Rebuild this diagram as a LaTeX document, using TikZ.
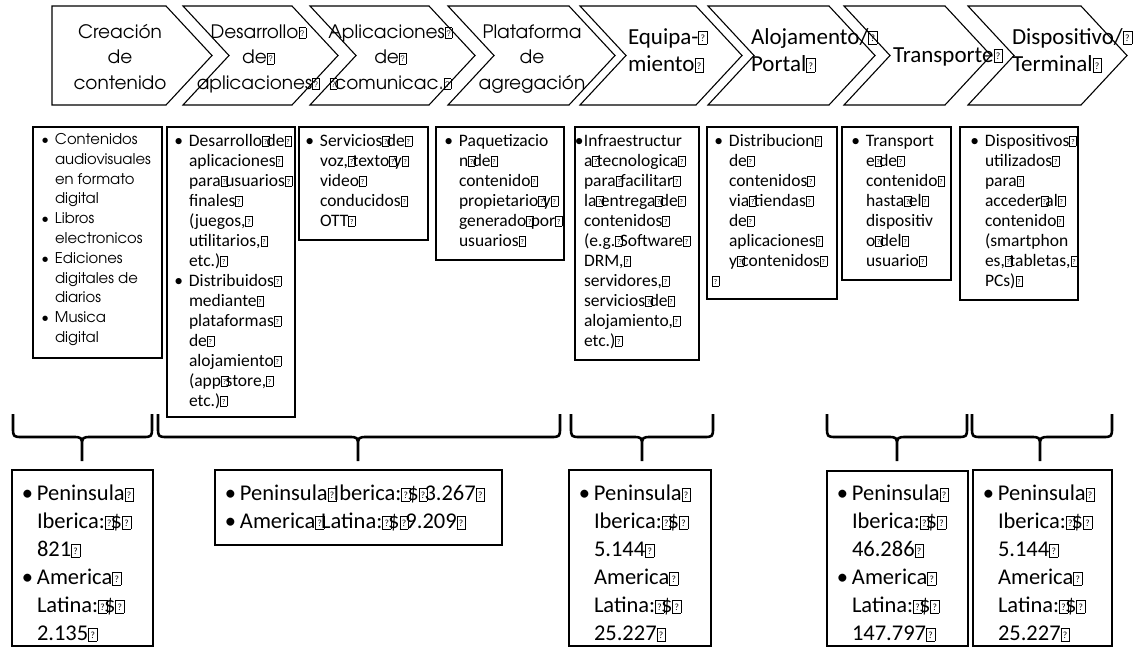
\documentclass[tikz,border=0pt]{standalone}
\usepackage{fontspec}
\setmainfont{Carlito}
\newfontfamily\gothic{texgyreadventor-regular.otf}
\newfontfamily\carl{Carlito}

% replacement-glyph box printed in place of unsupported characters;
% it advances only by about a word space, so it may overlap the next letter
\newcommand\qb{\makebox[0.26em][l]{\begingroup\setlength{\fboxsep}{0pt}\setlength{\fboxrule}{0.35pt}%
  \fbox{\makebox[0.36em]{\rule{0pt}{0.56em}\raisebox{0.1em}{\scalebox{0.42}{?}}}}\endgroup}}
% hanging bullet, #1 = gap to the text
\newcommand\bl[1]{\makebox[0pt][r]{•\hspace{#1}}}
% first-line strut so the node top sits a fixed distance above the baseline
\newcommand\fs{\rule{0pt}{0.9em}}

\newcommand\fChevG{\gothic\fontsize{18.5}{25.5}\selectfont}
\newcommand\fChevC{\carl\fontsize{23}{27.5}\selectfont}
\newcommand\fBoxG{\gothic\fontsize{14.8}{19.8}\selectfont}
\newcommand\fBoxC{\carl\fontsize{17.5}{20}\selectfont}
\newcommand\fBot{\carl\fontsize{22.5}{28}\selectfont}

\tikzset{
  chev/.style={draw=black, line width=1.1pt, line join=miter, fill=white},
  dbox/.style={draw=black, line width=1.2pt},
  brace/.style={draw=black, line width=2.6pt, line join=round},
  ltxt/.style={inner sep=0pt, outer sep=0pt, align=left, anchor=north west},
  ctxt/.style={inner sep=0pt, outer sep=0pt, align=center, anchor=north},
}

\newcommand\chevpath[2]{(#1,6) -- (#2,6) -- ({#2+46},55.5) -- (#2,105) -- (#1,105) -- ({#1+46},55.5) -- cycle}
\newcommand\brc[3]{\draw[brace] (#1,414) -- (#1,427) .. controls (#1,437) .. ({#1+10},437) -- ({#3-10},437)
   .. controls (#3,437) .. (#3,447) -- (#3,461)
   (#3,447) .. controls (#3,437) .. ({#3+10},437) -- ({#2-10},437) .. controls (#2,437) .. (#2,427) -- (#2,414);}

\begin{document}
\begin{tikzpicture}[x=1pt,y=-1pt]
\useasboundingbox[fill=white] (0,0) rectangle (1140,648);

% value chain stages
\draw[chev] (52,6) -- (166,6) -- (212,55.5) -- (166,105) -- (52,105) -- cycle;
\draw[chev] \chevpath{183}{292};
\draw[chev] \chevpath{310}{429};
\draw[chev] \chevpath{448}{569};
\draw[chev] \chevpath{580}{696};
\draw[chev] \chevpath{708}{829};
\draw[chev] \chevpath{844}{945};
\draw[chev] \chevpath{968}{1081};

\node[ctxt, font=\fChevG] (c1) at (120,21.4) {\fs Creación\\de\\contenido};
\node[ctxt, font=\fChevG] (c2) at (257,21.4) {\fs Desarrollo\qb\\de\qb\\aplicaciones\qb};
\node[ctxt, font=\fChevG] (c3) at (389,21.4) {\fs Aplicaciones\qb\\de\qb\\\qb comunicac.\qb};
\node[ctxt, font=\fChevG] (c4) at (532,21.4) {\fs Plataforma\\de\\agregación};
\node[ltxt, font=\fChevC] (c5) at (628,23.3) {\fs Equipa-\qb\\miento\qb};
\node[ltxt, font=\fChevC] (c6) at (751,23.3) {\fs Alojamento/\qb\\Portal\qb};
\node[ltxt, font=\fChevC] (c7) at (893,41.3) {\fs Transporte\qb};
\node[ltxt, font=\fChevC] (c8) at (1012,23.3) {\fs Dispositivo/\qb\\Terminal\qb};

% description boxes
\draw[dbox] (33,127) rectangle (162,358);
\draw[dbox] (167,127) rectangle (295,417);
\draw[dbox] (299,127) rectangle (428,240);
\draw[dbox] (436,127) rectangle (564,260);
\draw[dbox] (575,127) rectangle (699,360);
\draw[dbox] (707,127) rectangle (837,299);
\draw[dbox] (842,127) rectangle (951,280);
\draw[dbox] (960,127) rectangle (1078,300);

\node[ltxt, font=\fBoxG] (d1) at (55,131.1) {\bl{6pt}\fs Contenidos\\audiovisuales\\en formato\\digital\\
  \bl{6pt}Libros\\electronicos\\\bl{6pt}Ediciones\\digitales de\\diarios\\\bl{6pt}Musica\\digital};
\node[ltxt, font=\fBoxC] (d2) at (189,130.5) {\bl{6pt}\fs Desarrollo\qb de\qb\\aplicaciones\qb\\para\qb usuarios\qb\\finales\qb\\(juegos,\qb\\utilitarios,\qb\\etc.)\qb\\
  \bl{6pt}Distribuidos\qb\\mediante\qb\\plataformas\qb\\de\qb\\alojamiento\qb\\(app\qb store,\qb\\etc.)\qb};
\node[ltxt, font=\fBoxC] (d3) at (320,130.5) {\bl{6pt}\fs Servicios\qb de\qb\\voz,\qb texto\qb y\qb\\video\qb\\conducidos\qb\\OTT\qb};
\node[ltxt, font=\fBoxC] (d4) at (459,130.5) {\bl{6pt}\fs Paquetizacio\\n\qb de\qb\\contenido\qb\\propietario\qb y\qb\\generado\qb por\qb\\usuarios\qb};
\node[ltxt, font=\fBoxC] (d5) at (584,130.5) {\bl{0.5pt}\fs Infraestructur\\a\qb tecnologica\qb\\para\qb facilitar\qb\\la\qb entrega\qb de\qb\\contenidos\qb\\(e.g.\qb Software\qb\\
  DRM,\qb\\servidores,\qb\\servicios\qb de\qb\\alojamiento,\qb\\etc.)\qb};
\node[ltxt, font=\fBoxC] (d6) at (729,130.5) {\bl{6pt}\fs Distribucion\qb\\de\qb\\contenidos\qb\\via\qb tiendas\qb\\de\qb\\aplicaciones\qb\\y\qb contenidos\qb\\\hspace*{-17pt}\qb};
\node[ltxt, font=\fBoxC] (d7) at (866,130.5) {\bl{6pt}\fs Transport\\e\qb de\qb\\contenido\qb\\hasta\qb el\qb\\dispositiv\\o\qb del\qb\\usuario\qb};
\node[ltxt, font=\fBoxC] (d8) at (985,130.5) {\bl{6pt}\fs Dispositivos\qb\\utilizados\qb\\para\qb\\acceder\qb al\qb\\contenido\qb\\(smartphon\\es,\qb tabletas,\qb\\PCs)\qb};

% grouping braces
\brc{13}{152}{82}
\brc{158}{560}{358}
\brc{571}{713}{642}
\brc{827}{967}{897}
\brc{972}{1112}{1040}

% market figures
\draw[dbox] (12,470) rectangle (153,646);
\draw[dbox] (215,470) rectangle (502,545);
\draw[dbox] (569,470) rectangle (711,646);
\draw[dbox] (827,471) rectangle (968,646);
\draw[dbox] (973,470) rectangle (1112,646);

\node[ltxt, font=\fBot] (p1) at (37,480.5) {\bl{4pt}\fs Peninsula\qb\\Iberica:\qb\$\qb\\821\qb\\\bl{4pt}America\qb\\Latina:\qb\$\qb\\2.135\qb};
\node[ltxt, font=\fBot] (p2) at (240,480.5) {\bl{4pt}\fs Peninsula\qb Iberica:\qb\$\qb 3.267\qb\\\bl{4pt}America\qb Latina:\qb\$\qb 9.209\qb};
\node[ltxt, font=\fBot] (p3) at (594,480.5) {\bl{4pt}\fs Peninsula\qb\\Iberica:\qb\$\qb\\5.144\qb\\America\qb\\Latina:\qb\$\qb\\25.227\qb};
\node[ltxt, font=\fBot] (p4) at (852,480.5) {\bl{4pt}\fs Peninsula\qb\\Iberica:\qb\$\qb\\46.286\qb\\\bl{4pt}America\qb\\Latina:\qb\$\qb\\147.797\qb};
\node[ltxt, font=\fBot] (p5) at (998,480.5) {\bl{4pt}\fs Peninsula\qb\\Iberica:\qb\$\qb\\5.144\qb\\America\qb\\Latina:\qb\$\qb\\25.227\qb};
\end{tikzpicture}
\end{document}
